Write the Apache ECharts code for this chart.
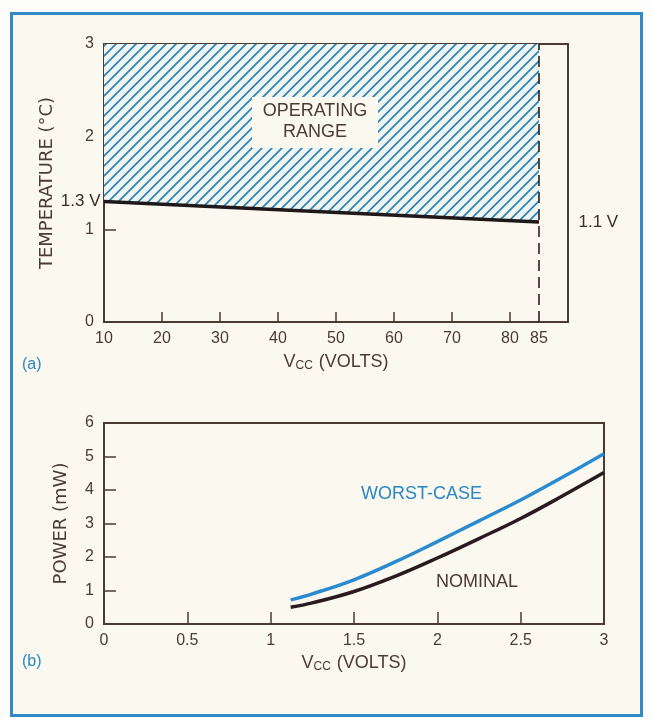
<!DOCTYPE html>
<html>
<head>
<meta charset="utf-8">
<script src="https://cdn.jsdelivr.net/npm/echarts@6/dist/echarts.min.js"></script>
<style>
  body { margin: 0; background: #fdfdfb; }
  #frame { position: absolute; left: 10px; top: 12px; width: 627px; height: 699px;
           border: 3px solid #2f8ac6; background: #fbf9ef; }
  #main { position: absolute; left: 0; top: 0; width: 652px; height: 719px; }
</style>
</head>
<body>
<div id="frame"></div>
<div id="main"></div>
<script>
// (a) operating range boundary
var vccA = [10, 85];
var boundaryA = [1.3, 1.08];
var xLabelsA = [10, 20, 30, 40, 50, 60, 70, 80, 85];
var xTicksA = [20, 30, 40, 50, 60, 70, 80];
var boundaryLabels = ['1.3 V', '1.1 V'];

// (b) power vs vcc
var vccB = [1.12, 1.25, 1.5, 1.75, 2.0, 2.25, 2.5, 2.75, 3.0];
var worstCase = [0.72, 0.9, 1.32, 1.86, 2.46, 3.08, 3.7, 4.38, 5.08];
var nominal = [0.5, 0.63, 0.97, 1.43, 1.97, 2.55, 3.15, 3.82, 4.52];

var ink = '#4a3b33';
var blue = '#2a86c4';
var font = 'Liberation Sans';

// diagonal hatch tile
var tile = document.createElement('canvas');
tile.width = 10; tile.height = 10;
var ctx = tile.getContext('2d');
ctx.fillStyle = '#f1f5f0';
ctx.fillRect(0, 0, 10, 10);
ctx.strokeStyle = '#2a84bb';
ctx.lineWidth = 1.7;
ctx.beginPath();
ctx.moveTo(-1, 11); ctx.lineTo(11, -1);
ctx.moveTo(-1, 1); ctx.lineTo(1, -1);
ctx.moveTo(9, 11); ctx.lineTo(11, 9);
ctx.stroke();

var vccName = {
  name: '{v|V}{s|CC}{v| (VOLTS)}',
  nameLocation: 'middle',
  nameTextStyle: {
    rich: {
      v: { fontSize: 18, color: ink, fontFamily: font },
      s: { fontSize: 12, color: ink, fontFamily: font, padding: [8, 1, 0, 0] }
    }
  }
};

function axisBase() {
  return {
    axisLine: { lineStyle: { color: ink, width: 2 } },
    axisTick: { inside: true, length: 12, lineStyle: { color: ink, width: 1.5 } },
    axisLabel: { color: ink, fontSize: 16, fontFamily: font },
    splitLine: { show: false }
  };
}

var chart = echarts.init(document.getElementById('main'));

var xA = Object.assign(axisBase(), vccName, {
  gridIndex: 0, type: 'value', min: 10, max: 90, nameGap: 30
});
xA.axisTick = Object.assign({}, xA.axisTick, { length: 10, customValues: xTicksA });
xA.axisLabel = Object.assign({}, xA.axisLabel, { customValues: xLabelsA, margin: 9 });

var xB = Object.assign(axisBase(), vccName, {
  gridIndex: 1, type: 'value', min: 0, max: 3, interval: 0.5, nameGap: 29
});
xB.axisLabel = Object.assign({}, xB.axisLabel, { margin: 9 });

var yA = Object.assign(axisBase(), {
  gridIndex: 0, type: 'value', min: 0, max: 3, interval: 1,
  name: 'TEMPERATURE (°C)', nameLocation: 'middle', nameGap: 48,
  nameTextStyle: { color: ink, fontSize: 18, fontFamily: 'DejaVu Sans' }
});
yA.axisLabel = Object.assign({}, yA.axisLabel, { margin: 10 });

var yB = Object.assign(axisBase(), {
  gridIndex: 1, type: 'value', min: 0, max: 6, interval: 1,
  name: 'POWER (mW)', nameLocation: 'middle', nameGap: 34,
  nameTextStyle: { color: ink, fontSize: 18, fontFamily: 'DejaVu Sans' }
});
yB.axisLabel = Object.assign({}, yB.axisLabel, { margin: 10 });

chart.setOption({
  animation: false,
  backgroundColor: 'transparent',
  grid: [
    { left: 104, top: 44, width: 464, height: 278, show: true, borderColor: ink, borderWidth: 2 },
    { left: 104, top: 423, width: 500, height: 201, show: true, borderColor: ink, borderWidth: 2 }
  ],
  xAxis: [xA, xB],
  yAxis: [yA, yB],
  series: [
    {
      name: 'boundary',
      type: 'line',
      xAxisIndex: 0, yAxisIndex: 0,
      data: vccA.map(function (x, i) { return [x, boundaryA[i]]; }),
      symbol: 'none',
      lineStyle: { color: '#1e1818', width: 3.5 },
      areaStyle: { origin: 'end', color: { image: tile, repeat: 'repeat' }, opacity: 1 },
      markLine: {
        silent: true,
        symbol: 'none',
        label: { show: false },
        lineStyle: { color: '#2a2020', width: 1.6, type: [11, 6] },
        data: [{ xAxis: 85 }]
      },
      z: 2
    },
    {
      name: 'boundaryLabels',
      type: 'scatter',
      xAxisIndex: 0, yAxisIndex: 0,
      symbolSize: 1,
      itemStyle: { color: 'rgba(0,0,0,0)', opacity: 1 },
      data: vccA.map(function (x, i) {
        return {
          value: [x, boundaryA[i]],
          label: {
            show: true,
            formatter: boundaryLabels[i],
            position: i === 0 ? 'left' : 'right',
            distance: i === 0 ? 3 : 39,
            color: '#3a2d27', fontSize: 17, fontFamily: font
          }
        };
      })
    },
    {
      name: 'WORST-CASE',
      type: 'line',
      xAxisIndex: 1, yAxisIndex: 1,
      smooth: 0.4,
      symbol: 'none',
      data: vccB.map(function (x, i) { return [x, worstCase[i]]; }),
      lineStyle: { color: '#2b8bd0', width: 3.5 }
    },
    {
      name: 'NOMINAL',
      type: 'line',
      xAxisIndex: 1, yAxisIndex: 1,
      smooth: 0.4,
      symbol: 'none',
      data: vccB.map(function (x, i) { return [x, nominal[i]]; }),
      lineStyle: { color: '#2a1b1e', width: 3.5 }
    }
  ],
  graphic: [
    { type: 'rect', z: 100, shape: { x: 252, y: 97, width: 126, height: 51 }, style: { fill: '#fbf9ef' } },
    { type: 'text', z: 101, x: 315, y: 122,
      style: { text: 'OPERATING\nRANGE', align: 'center', verticalAlign: 'middle', lineHeight: 21,
               fill: ink, fontSize: 18, fontFamily: font } },
    { type: 'text', z: 101, x: 22, y: 357,
      style: { text: '(a)', fill: blue, fontSize: 16, fontFamily: font } },
    { type: 'text', z: 101, x: 22, y: 654,
      style: { text: '(b)', fill: blue, fontSize: 16, fontFamily: font } },
    { type: 'text', z: 101, x: 361, y: 485,
      style: { text: 'WORST-CASE', fill: blue, fontSize: 18, fontFamily: font } },
    { type: 'text', z: 101, x: 436, y: 573,
      style: { text: 'NOMINAL', fill: ink, fontSize: 18, fontFamily: font } }
  ]
});
</script>
</body>
</html>
